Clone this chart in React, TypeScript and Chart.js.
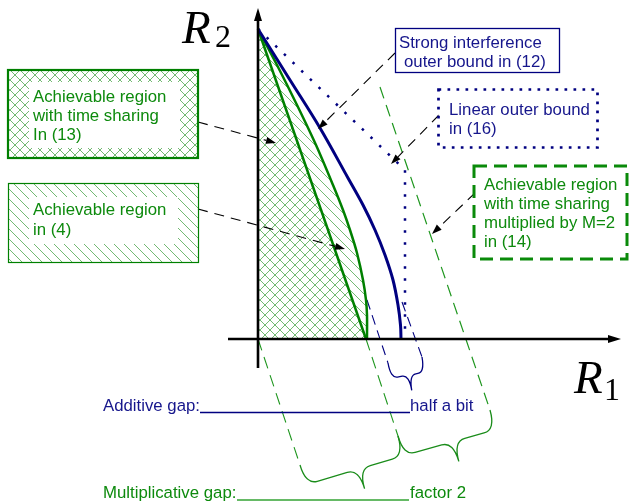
import React, { useEffect, useRef } from 'react';
import { Chart, registerables } from 'chart.js';

Chart.register(...registerables);

// ---------- data (schematic rate units) ----------
// time-sharing achievable region, eq. (13)
const timeShareR1 = [0, 1.08];
const timeShareR2 = [3.1, 0];
// achievable region, eq. (4)
const regionR1 = [0, 0.2, 0.39, 0.58, 0.75, 0.85, 0.92, 0.99, 1.05, 1.08, 1.09, 1.09];
const regionR2 = [3.1, 2.72, 2.34, 1.94, 1.54, 1.29, 1.09, 0.86, 0.59, 0.39, 0.24, 0];
// strong interference outer bound, eq. (12)
const strongR1 = [0, 0.32, 0.62, 0.9, 1.05, 1.17, 1.27, 1.35, 1.4, 1.425, 1.43];
const strongR2 = [3.1, 2.59, 2.11, 1.61, 1.34, 1.09, 0.84, 0.59, 0.34, 0.14, 0];
// linear outer bound, eq. (16)
const linearR1 = [0, 1.47, 1.47];
const linearR2 = [3.1, 1.69, 0];
// time sharing multiplied by M=2, eq. (14)
const scaledR1 = [1.22, 2.32];
const scaledR2 = [2.52, -0.71];
// projection guides [r1a, r2a, r1b, r2b]
const greenGuides = [
  [0, 0, 0.42, -1.26],
  [1.08, 0, 1.4, -0.97],
];
const blueGuides = [
  [1.09, 0.39, 1.3, -0.24],
  [1.44, 0.37, 1.64, -0.18],
];
// braces [r1a, r2a, r1b, r2b]
const greenBraces = [
  [0.42, -1.26, 1.4, -0.97],
  [1.4, -0.97, 2.32, -0.71],
];
const blueBraces = [[1.3, -0.24, 1.64, -0.18]];
// axis extents
const axisR1 = [-0.3, 3.63];
const axisR2 = [-0.29, 3.31];
// leader-arrow targets [r1, r2]
const arrowTargets = [
  [0.18, 1.96],
  [0.87, 0.9],
  [0.6, 2.1],
  [1.33, 1.75],
  [1.74, 1.05],
];

// ---------- texts ----------
const box13Lines = ['Achievable region', 'with time sharing', 'In (13)'];
const box4Lines = ['Achievable region', 'in (4)'];
const box12Lines = ['Strong interference', 'outer bound in (12)'];
const box16Lines = ['Linear outer bound', 'in (16)'];
const box14Lines = ['Achievable region', 'with time sharing', 'multiplied by M=2', 'in (14)'];
const additiveLabel = 'Additive gap:';
const additiveValue = 'half a bit';
const multLabel = 'Multiplicative gap:';
const multValue = 'factor 2';

// ---------- style ----------
const W = 629;
const H = 504;
const X_MIN = -2.58;
const X_MAX = 3.71;
const Y_MIN = -1.65;
const Y_MAX = 3.39;
const NAVY = '#000080';
const GREEN = '#008000';
const TEXT_BLUE = '#16168c';
const TEXT_GREEN = '#0d8a0d';
const HATCH = 'rgba(0,128,0,0.55)';
const FONT = '16.8px "Liberation Sans", Arial, sans-serif';

const pts = (xs: number[], ys: number[]) => xs.map((x, i) => ({ x, y: ys[i] }));

function makeHatch(dir: 'back' | 'fwd') {
  const c = document.createElement('canvas');
  c.width = 10;
  c.height = 10;
  const g = c.getContext('2d')!;
  g.strokeStyle = HATCH;
  g.lineWidth = 1;
  g.beginPath();
  if (dir === 'back') {
    g.moveTo(-2, -2); g.lineTo(12, 12);
    g.moveTo(8, -2); g.lineTo(12, 2);
    g.moveTo(-2, 8); g.lineTo(2, 12);
  } else {
    g.moveTo(-2, 12); g.lineTo(12, -2);
    g.moveTo(-2, 2); g.lineTo(2, -2);
    g.moveTo(8, 12); g.lineTo(12, 8);
  }
  g.stroke();
  return g.createPattern(c, 'repeat')!;
}

export default function App() {
  const ref = useRef<HTMLCanvasElement>(null);

  useEffect(() => {
    const canvas = ref.current!;
    const hatchBack = makeHatch('back');
    const hatchFwd = makeHatch('fwd');

    const drawLines = (ctx: CanvasRenderingContext2D, lines: string[], x: number, y0: number, lh: number, color: string) => {
      ctx.fillStyle = color;
      ctx.font = FONT;
      ctx.textAlign = 'left';
      ctx.textBaseline = 'alphabetic';
      lines.forEach((l, i) => ctx.fillText(l, x, y0 + i * lh));
    };

    const arrow = (ctx: CanvasRenderingContext2D, x0: number, y0: number, x1: number, y1: number) => {
      const a = Math.atan2(y1 - y0, x1 - x0);
      const hl = 10;
      const hw = 3.5;
      const bx = x1 - hl * Math.cos(a);
      const by = y1 - hl * Math.sin(a);
      ctx.save();
      ctx.strokeStyle = '#000';
      ctx.lineWidth = 1.1;
      ctx.setLineDash([10, 7]);
      ctx.beginPath();
      ctx.moveTo(x0, y0);
      ctx.lineTo(bx, by);
      ctx.stroke();
      ctx.setLineDash([]);
      ctx.fillStyle = '#000';
      ctx.beginPath();
      ctx.moveTo(x1, y1);
      ctx.lineTo(bx - hw * Math.sin(a), by + hw * Math.cos(a));
      ctx.lineTo(bx + hw * Math.sin(a), by - hw * Math.cos(a));
      ctx.closePath();
      ctx.fill();
      ctx.restore();
    };

    const brace = (ctx: CanvasRenderingContext2D, ax: number, ay: number, bx: number, by: number, depth: number, color: string) => {
      const L = Math.hypot(bx - ax, by - ay);
      const tx = (bx - ax) / L;
      const ty = (by - ay) / L;
      const nx = -ty;
      const ny = tx;
      const h = depth / 2;
      const r = Math.min(12, L / 5);
      const mx = (ax + bx) / 2 + tx * L * 0.04;
      const my = (ay + by) / 2 + ty * L * 0.04;
      ctx.save();
      ctx.strokeStyle = color;
      ctx.lineWidth = 1.3;
      ctx.beginPath();
      ctx.moveTo(ax, ay);
      ctx.quadraticCurveTo(ax + nx * h, ay + ny * h, ax + nx * h + tx * r, ay + ny * h + ty * r);
      ctx.lineTo(mx + nx * h - tx * r, my + ny * h - ty * r);
      ctx.quadraticCurveTo(mx + nx * h, my + ny * h, mx + nx * depth, my + ny * depth);
      ctx.quadraticCurveTo(mx + nx * h, my + ny * h, mx + nx * h + tx * r, my + ny * h + ty * r);
      ctx.lineTo(bx + nx * h - tx * r, by + ny * h - ty * r);
      ctx.quadraticCurveTo(bx + nx * h, by + ny * h, bx, by);
      ctx.stroke();
      ctx.restore();
    };

    const diagram = {
      id: 'diagram',
      afterDatasetsDraw(chart: any) {
        const ctx: CanvasRenderingContext2D = chart.ctx;
        const xs = chart.scales.x;
        const ys = chart.scales.y;
        const px = (v: number) => xs.getPixelForValue(v);
        const py = (v: number) => ys.getPixelForValue(v);

        // axes
        ctx.save();
        ctx.strokeStyle = '#000';
        ctx.fillStyle = '#000';
        ctx.lineWidth = 2.6;
        const ox = px(0);
        const oy = py(0);
        const xEnd = px(axisR1[1]);
        const yEnd = py(axisR2[1]);
        ctx.beginPath();
        ctx.moveTo(px(axisR1[0]), oy);
        ctx.lineTo(xEnd - 10, oy);
        ctx.moveTo(ox, py(axisR2[0]));
        ctx.lineTo(ox, yEnd + 10);
        ctx.stroke();
        ctx.beginPath();
        ctx.moveTo(xEnd, oy);
        ctx.lineTo(xEnd - 13, oy - 4);
        ctx.lineTo(xEnd - 13, oy + 4);
        ctx.closePath();
        ctx.fill();
        ctx.beginPath();
        ctx.moveTo(ox, yEnd);
        ctx.lineTo(ox - 4, yEnd + 13);
        ctx.lineTo(ox + 4, yEnd + 13);
        ctx.closePath();
        ctx.fill();
        ctx.restore();

        // braces
        greenBraces.forEach((b) => brace(ctx, px(b[0]), py(b[1]), px(b[2]), py(b[3]), 41, '#1a8c1a'));
        blueBraces.forEach((b) => brace(ctx, px(b[0]), py(b[1]), px(b[2]), py(b[3]), 31, NAVY));

        // leader arrows
        const starts = [
          [198, 122],
          [198, 209],
          [395, 53],
          [439, 115],
          [475, 193],
        ];
        arrowTargets.forEach((t, i) => arrow(ctx, starts[i][0], starts[i][1], px(t[0]), py(t[1])));

        // box (13): cross hatched
        ctx.save();
        ctx.fillStyle = hatchBack;
        ctx.fillRect(8, 70, 190, 88);
        ctx.fillStyle = hatchFwd;
        ctx.fillRect(8, 70, 190, 88);
        ctx.fillStyle = '#fff';
        ctx.fillRect(29, 82, 151, 66);
        ctx.strokeStyle = GREEN;
        ctx.lineWidth = 2.2;
        ctx.strokeRect(8, 70, 190, 88);
        ctx.restore();
        drawLines(ctx, box13Lines, 33, 101.5, 19, TEXT_GREEN);

        // box (4): single hatch
        ctx.save();
        ctx.fillStyle = hatchBack;
        ctx.fillRect(8.5, 183.5, 190, 79);
        ctx.fillStyle = '#fff';
        ctx.fillRect(29, 197, 149, 47);
        ctx.strokeStyle = GREEN;
        ctx.lineWidth = 1.2;
        ctx.strokeRect(8.5, 183.5, 190, 79);
        ctx.restore();
        drawLines(ctx, box4Lines, 33, 215, 19.5, TEXT_GREEN);

        // box (12)
        ctx.save();
        ctx.fillStyle = '#fff';
        ctx.fillRect(395.5, 28.5, 164, 44);
        ctx.strokeStyle = NAVY;
        ctx.lineWidth = 1.3;
        ctx.strokeRect(395.5, 28.5, 164, 44);
        ctx.restore();
        drawLines(ctx, [box12Lines[0]], 399, 47.5, 19, TEXT_BLUE);
        drawLines(ctx, [box12Lines[1]], 404, 66.5, 19, TEXT_BLUE);

        // box (16): dotted
        ctx.save();
        ctx.fillStyle = '#fff';
        ctx.fillRect(438.5, 89.5, 159, 58);
        ctx.strokeStyle = NAVY;
        ctx.lineWidth = 2.7;
        ctx.setLineDash([2.7, 6.3]);
        ctx.strokeRect(438.5, 89.5, 159, 58);
        ctx.restore();
        drawLines(ctx, box16Lines, 449, 115, 19, TEXT_BLUE);

        // box (14): dashed
        ctx.save();
        ctx.fillStyle = '#fff';
        ctx.fillRect(474, 166, 153, 93);
        ctx.strokeStyle = '#0a8a0a';
        ctx.lineWidth = 3;
        ctx.setLineDash([13, 7]);
        ctx.strokeRect(474, 166, 153, 93);
        ctx.restore();
        drawLines(ctx, box14Lines, 484, 190, 19, TEXT_GREEN);

        // gap labels
        drawLines(ctx, [additiveLabel], 103, 411, 0, TEXT_BLUE);
        drawLines(ctx, [additiveValue], 410, 411, 0, TEXT_BLUE);
        drawLines(ctx, [multLabel], 103, 497.5, 0, TEXT_GREEN);
        drawLines(ctx, [multValue], 410, 497.5, 0, TEXT_GREEN);
        ctx.save();
        ctx.strokeStyle = NAVY;
        ctx.lineWidth = 1.3;
        ctx.beginPath();
        ctx.moveTo(200, 412.5);
        ctx.lineTo(410, 412.5);
        ctx.stroke();
        ctx.strokeStyle = 'rgba(0,140,0,0.6)';
        ctx.lineWidth = 2;
        ctx.beginPath();
        ctx.moveTo(237, 500);
        ctx.lineTo(409, 500);
        ctx.stroke();
        ctx.restore();

        // axis titles
        ctx.save();
        ctx.fillStyle = '#000';
        ctx.textBaseline = 'alphabetic';
        ctx.textAlign = 'left';
        ctx.font = 'italic 47px "Liberation Serif", "Times New Roman", serif';
        ctx.fillText('R', 182, 43);
        ctx.fillText('R', 574, 393);
        ctx.font = '32px "Liberation Serif", "Times New Roman", serif';
        ctx.fillText('2', 215, 47);
        ctx.fillText('1', 604, 400);
        ctx.restore();
      },
    };

    const guideDs = (g: number[], color: string, dash: number[]) => ({
      data: [
        { x: g[0], y: g[1] },
        { x: g[2], y: g[3] },
      ],
      borderColor: color,
      borderWidth: 1.1,
      borderDash: dash,
      fill: false,
      tension: 0,
    });

    const chart = new Chart(canvas, {
      type: 'line',
      data: {
        datasets: [
          {
            data: pts(strongR1, strongR2),
            borderColor: NAVY,
            borderWidth: 3,
            tension: 0.35,
            fill: false,
          },
          {
            data: pts(timeShareR1, timeShareR2),
            borderColor: GREEN,
            borderWidth: 2.5,
            tension: 0,
            fill: 'origin',
            backgroundColor: hatchFwd,
          },
          {
            data: pts(regionR1, regionR2),
            borderColor: GREEN,
            borderWidth: 2.5,
            tension: 0.3,
            fill: 'origin',
            backgroundColor: hatchBack,
          },
          {
            data: pts(linearR1, linearR2),
            borderColor: NAVY,
            borderWidth: 2.5,
            borderDash: [2.5, 9.5],
            tension: 0,
            fill: false,
          },
          {
            data: pts(scaledR1, scaledR2),
            borderColor: '#1e961e',
            borderWidth: 1.2,
            borderDash: [12, 7],
            tension: 0,
            fill: false,
          },
          ...greenGuides.map((g) => guideDs(g, '#1e961e', [12, 7])),
          ...blueGuides.map((g) => guideDs(g, NAVY, [10, 6])),
        ] as any,
      },
      options: {
        animation: false,
        responsive: false,
        events: [],
        layout: { padding: 0 },
        elements: { point: { radius: 0, hoverRadius: 0 } },
        plugins: {
          legend: { display: false },
          tooltip: { enabled: false },
          filler: { drawTime: 'beforeDatasetsDraw' },
        } as any,
        scales: {
          x: { type: 'linear', min: X_MIN, max: X_MAX, display: false },
          y: { type: 'linear', min: Y_MIN, max: Y_MAX, display: false },
        },
      },
      plugins: [diagram as any],
    });

    return () => chart.destroy();
  }, []);

  return (
    <div style={{ position: 'fixed', left: 0, top: 0, width: W, height: H, background: '#fff' }}>
      <canvas ref={ref} width={W} height={H} style={{ width: W, height: H, display: 'block' }} />
    </div>
  );
}
